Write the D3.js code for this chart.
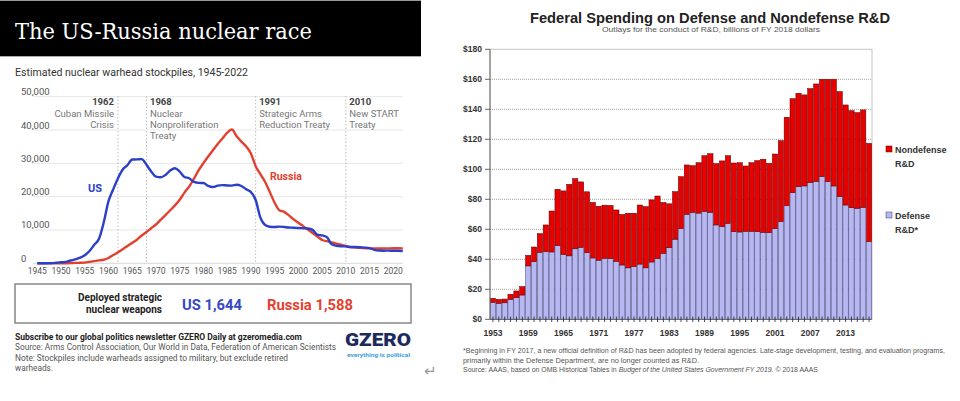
<!DOCTYPE html>
<html><head><meta charset="utf-8">
<script src="https://cdn.jsdelivr.net/npm/d3@7"></script>
<style>body{margin:0;background:#fff}svg{display:block}</style>
</head><body><svg id="c" width="960" height="401"></svg>
<script>
// ---------- Left chart data ----------
const years = d3.range(1945, 2023);
const usStockpile = [2,9,13,50,170,299,438,841,1169,1703,2422,3692,5543,7345,12298,18638,22229,25540,28133,29463,31139,31175,31255,29561,27552,26008,25830,26516,27835,28537,27519,25914,25542,24418,24138,24104,23208,22886,23305,23459,23368,23317,23575,23205,22217,21392,19008,13708,11511,10979,10904,11011,10903,10732,10685,10577,10526,10457,10027,8570,8360,7853,5709,5273,5113,5066,4897,4881,4804,4717,4571,4018,3822,3785,3805,3750,3750,3708];
const russiaStockpile = [0,0,0,0,1,5,25,50,120,150,200,426,660,869,1060,1605,2471,3322,4238,5221,6129,7089,8339,9399,10538,11643,13092,14478,15915,17385,19055,21205,23044,25393,27935,30062,32049,33952,35804,37431,39197,40159,38107,36538,35078,32980,29154,26734,24403,21339,18179,15942,15442,14368,13188,12188,11152,10114,9076,8038,7000,6643,6286,5929,5572,5215,4858,4750,4650,4550,4475,4460,4458,4460,4480,4495,4495,4477];
const xTicksLeft = d3.range(1945, 2021, 5);
const yTicksLeft = [0,10000,20000,30000,40000,50000];
const treatyYears = [1962, 1968, 1991, 2010];
const treatyLines = [["Cuban Missile","Crisis"],["Nuclear","Nonproliferation","Treaty"],["Strategic Arms","Reduction Treaty"],["New START","Treaty"]];
const deployed = {us: "US 1,644", russia: "Russia 1,588"};

// ---------- Right chart data ----------
const fiscalYears = d3.range(1953, 2018);
const defenseRD = [11.3,10.7,11,13.3,14.4,16.2,35.6,38.4,44.7,45.1,44.9,49.1,43.2,42.3,47,48,44.4,40.9,39.4,40.7,40.5,38.7,36.2,34.3,35.1,36.8,34.3,38.2,40.5,44,47.7,53.4,60.5,70,71.3,70.8,72,71.3,62.9,61.8,64,58.4,58.2,58.7,58.7,58.4,58,57.8,60.4,65.1,75.8,84.4,88.4,88.9,91.1,92,95.1,91.8,88.9,81.8,76.2,74.4,74,74.7,51.8];
const nondefenseRD = [2.7,2.6,2.5,3.4,4.5,5.6,7.0,9.8,12.4,17.8,27.3,37.6,42.4,47.7,46.8,43.6,40.6,37.0,36.0,35.4,35.4,34.2,33.7,36.4,35.6,39.4,40.8,41.4,41.7,33.9,29.3,31.7,34.6,32.9,31.1,33.6,37.1,39.1,40.9,43.8,45.1,45.8,46.2,43.5,45.7,47.4,48.7,46.2,49.8,54.0,58.9,62.7,62.3,60.7,62.7,64.9,64.9,68.2,71.1,70.0,66.7,64.7,63.8,64.9,65.5];
const yTicksRight = [0,20,40,60,80,100,120,140,160,180];
const xTickYearsRight = d3.range(1953, 2014, 6);

const svg = d3.select("#c");
svg.append("rect").attr("width",960).attr("height",401).attr("fill","#fff");

// ================= LEFT PANEL =================
const L = svg.append("g").style("font-family","Roboto, 'Noto Sans', sans-serif");
L.append("line").attr("x1",0).attr("x2",421).attr("y1",0.5).attr("y2",0.5).attr("stroke","#999");
L.append("rect").attr("x",0).attr("y",1).attr("width",421).attr("height",55).attr("fill","#000");
L.append("line").attr("x1",0).attr("x2",421).attr("y1",56.5).attr("y2",56.5).attr("stroke","#aaa");
L.append("text").attr("x",15).attr("y",38.5).attr("fill","#fff")
  .style("font-family","'DejaVu Serif', serif").style("font-size","22.5px")
  .attr("textLength",297).attr("lengthAdjust","spacingAndGlyphs")
  .text("The US-Russia nuclear race");
L.append("text").attr("x",15).attr("y",76).attr("fill","#333").style("font-size","10px")
  .attr("textLength",233).attr("lengthAdjust","spacingAndGlyphs")
  .text("Estimated nuclear warhead stockpiles, 1945-2022");

const xL = d3.scaleLinear().domain([1945, 2022]).range([37.3, 402.8]);
const yL = d3.scaleLinear().domain([0, 50000]).range([263.3, 96.7]);

L.append("g").selectAll("line").data(yTicksLeft).join("line")
  .attr("x1",33).attr("x2",403).attr("y1",d=>yL(d)).attr("y2",d=>yL(d))
  .attr("stroke",d=>d===0?"#d8d8d8":"#e6e6e6").attr("stroke-width",1);
L.append("g").selectAll("text").data(yTicksLeft).join("text")
  .attr("x",21).attr("y",d=>yL(d)-1.5).attr("fill","#555").style("font-size","9.5px")
  .text(d=>d3.format(",")(d));
L.append("g").selectAll("text").data(xTicksLeft).join("text")
  .attr("x",d=>xL(d)).attr("y",274).attr("text-anchor","middle").attr("fill","#555")
  .style("font-size","8.5px").text(d=>d);

// treaty annotations
treatyYears.forEach((yr,i)=>{
  const x = xL(yr);
  L.append("line").attr("x1",x).attr("x2",x).attr("y1",96).attr("y2",263)
    .attr("stroke","#bdbdbd").attr("stroke-dasharray","1.5,2");
  const end = i===0;
  const tx = end ? x-4 : x+3.5;
  const anchor = end ? "end" : "start";
  L.append("text").attr("x",tx).attr("y",105).attr("text-anchor",anchor)
    .attr("fill","#444").style("font-size","9.5px").style("font-weight","bold").text(yr);
  treatyLines[i].forEach((t,j)=>{
    L.append("text").attr("x",tx).attr("y",116.5+j*11.3).attr("text-anchor",anchor)
      .attr("fill","#777").style("font-size","9.5px").text(t);
  });
});

const lineGen = (vals)=> d3.line().x((d,i)=>xL(years[i])).y(d=>yL(d)).curve(d3.curveMonotoneX)(vals);
L.append("path").attr("d",lineGen(russiaStockpile)).attr("fill","none").attr("stroke","#e4402f").attr("stroke-width",2.4);
L.append("path").attr("d",lineGen(usStockpile)).attr("fill","none").attr("stroke","#2b40c8").attr("stroke-width",2.4);
L.append("text").attr("x",88).attr("y",192).attr("fill","#2b40c8").style("font-size","11px").style("font-weight","bold").text("US");
L.append("text").attr("x",270).attr("y",180).attr("fill","#e4402f").style("font-size","10.5px").style("font-weight","bold").text("Russia");

// deployed box
L.append("rect").attr("x",15).attr("y",284).attr("width",396).attr("height",39)
  .attr("fill","none").attr("stroke","#888").attr("stroke-width",1.5);
L.append("text").attr("x",162).attr("y",300.5).attr("text-anchor","end").attr("fill","#222")
  .style("font-size","10px").style("font-weight","bold").text("Deployed strategic");
L.append("text").attr("x",162).attr("y",313).attr("text-anchor","end").attr("fill","#222")
  .style("font-size","10px").style("font-weight","bold").text("nuclear weapons");
L.append("text").attr("x",182).attr("y",309.5).attr("fill","#3549c4")
  .style("font-size","15.5px").style("font-weight","bold")
  .attr("textLength",60).attr("lengthAdjust","spacingAndGlyphs").text(deployed.us);
L.append("text").attr("x",267).attr("y",309.5).attr("fill","#e4402f")
  .style("font-size","15.5px").style("font-weight","bold")
  .attr("textLength",86).attr("lengthAdjust","spacingAndGlyphs").text(deployed.russia);

// footer
const foot = [
  {t:"Subscribe to our global politics newsletter GZERO Daily at gzeromedia.com", y:339.5, w:287, b:true, c:"#222"},
  {t:"Source: Arms Control Association, Our World in Data, Federation of American Scientists", y:350, w:321, b:false, c:"#555"},
  {t:"Note: Stockpiles include warheads assigned to military, but exclude retired", y:360.5, w:273, b:false, c:"#555"},
  {t:"warheads.", y:371, w:38, b:false, c:"#555"}
];
foot.forEach(f=>{
  L.append("text").attr("x",15).attr("y",f.y).attr("fill",f.c)
    .style("font-size","8.3px").style("font-weight",f.b?"bold":"normal")
    .attr("textLength",f.w).attr("lengthAdjust","spacingAndGlyphs").text(f.t);
});
L.append("text").attr("x",345).attr("y",346).attr("fill","#1c2b5e")
  .style("font-size","18.5px").style("font-weight","900")
  .attr("textLength",66).attr("lengthAdjust","spacingAndGlyphs").text("GZERO");
L.append("text").attr("x",347).attr("y",356.5).attr("fill","#37a2e0")
  .style("font-size","6px").style("font-weight","bold")
  .attr("textLength",63).attr("lengthAdjust","spacingAndGlyphs").text("everything is political");

svg.append("text").attr("x",424).attr("y",376).attr("fill","#999").style("font-size","15px")
  .style("font-family","'DejaVu Sans', sans-serif").text("↵");

// ================= RIGHT PANEL =================
const R = svg.append("g").style("font-family","'Liberation Sans', Arial, sans-serif");
R.append("text").attr("x",710).attr("y",23).attr("text-anchor","middle").attr("fill","#222")
  .style("font-size","14.5px").style("font-weight","bold")
  .attr("textLength",360).attr("lengthAdjust","spacingAndGlyphs")
  .text("Federal Spending on Defense and Nondefense R&D");
R.append("text").attr("x",711).attr("y",32).attr("text-anchor","middle").attr("fill","#555")
  .style("font-size","8px").attr("textLength",218).attr("lengthAdjust","spacingAndGlyphs")
  .text("Outlays for the conduct of R&D, billions of FY 2018 dollars");

const xR = d3.scaleBand().domain(fiscalYears).range([490, 872]).paddingInner(0.1).paddingOuter(0.05);
const yR = d3.scaleLinear().domain([0, 180]).range([319.3, 49.3]);

R.append("rect").attr("x",490).attr("y",49.3).attr("width",382).attr("height",270).attr("fill","none").attr("stroke","#c4c4c4");
R.append("g").selectAll("line").data(yTicksRight.filter(d=>d>0 && d<180)).join("line")
  .attr("x1",490).attr("x2",872).attr("y1",d=>yR(d)).attr("y2",d=>yR(d))
  .attr("stroke","#888").attr("stroke-dasharray","1,1").attr("stroke-width",0.8);

// bars
const bars = R.append("g");
bars.selectAll("rect.def").data(fiscalYears).join("rect").attr("class","def")
  .attr("x",d=>xR(d)).attr("width",xR.bandwidth())
  .attr("y",(d,i)=>yR(defenseRD[i])).attr("height",(d,i)=>yR(0)-yR(defenseRD[i]))
  .attr("fill","#b7b7f2").attr("stroke","#3a3a6a").attr("stroke-width",0.5);
bars.selectAll("rect.non").data(fiscalYears).join("rect").attr("class","non")
  .attr("x",d=>xR(d)).attr("width",xR.bandwidth())
  .attr("y",(d,i)=>yR(defenseRD[i]+nondefenseRD[i])).attr("height",(d,i)=>yR(defenseRD[i])-yR(defenseRD[i]+nondefenseRD[i]))
  .attr("fill","#e60000").attr("stroke","#5a0000").attr("stroke-width",0.5);

// axes
R.append("line").attr("x1",490).attr("x2",490).attr("y1",49.3).attr("y2",319.3).attr("stroke","#666");
R.append("line").attr("x1",490).attr("x2",872).attr("y1",319.3).attr("y2",319.3).attr("stroke","#666");
R.append("g").selectAll("line").data(yTicksRight).join("line")
  .attr("x1",485).attr("x2",490).attr("y1",d=>yR(d)).attr("y2",d=>yR(d)).attr("stroke","#666");
R.append("g").selectAll("text").data(yTicksRight).join("text")
  .attr("x",482).attr("y",d=>yR(d)+3).attr("text-anchor","end").attr("fill","#333")
  .style("font-size","8.5px").style("font-weight","bold").text(d=>"$"+d);
R.append("g").selectAll("line").data(fiscalYears).join("line")
  .attr("x1",d=>xR(d)+xR.bandwidth()/2).attr("x2",d=>xR(d)+xR.bandwidth()/2)
  .attr("y1",316.5).attr("y2",322).attr("stroke","#223").attr("stroke-width",0.8);
R.append("g").selectAll("text").data(xTickYearsRight).join("text")
  .attr("x",d=>xR(d)+xR.bandwidth()/2).attr("y",336).attr("text-anchor","middle").attr("fill","#333")
  .style("font-size","8.5px").style("font-weight","bold").text(d=>d);

// legend
const legend = [
  {c:"#e60000", s:"#5a0000", l:["Nondefense","R&D"], y:146},
  {c:"#b7b7f2", s:"#3a3a6a", l:["Defense","R&D*"], y:212}
];
legend.forEach(g=>{
  R.append("rect").attr("x",886).attr("y",g.y).attr("width",6).attr("height",6).attr("fill",g.c).attr("stroke",g.s).attr("stroke-width",0.5);
  g.l.forEach((t,j)=>{
    R.append("text").attr("x",895).attr("y",g.y+6.5+j*14).attr("fill","#333")
      .style("font-size","9px").style("font-weight","bold").text(t);
  });
});

// footnote
R.append("text").attr("x",463).attr("y",352.5).attr("fill","#555").style("font-size","6.5px")
  .attr("textLength",482).attr("lengthAdjust","spacingAndGlyphs")
  .text("*Beginning in FY 2017,  a new official definition of R&D has been adopted by federal agencies. Late-stage development, testing, and evaluation programs,");
R.append("text").attr("x",463).attr("y",362.5).attr("fill","#555").style("font-size","6.5px")
  .attr("textLength",236).attr("lengthAdjust","spacingAndGlyphs")
  .text("primarily within the Defense Department, are no longer counted as R&D.");
const src = R.append("text").attr("x",463).attr("y",372).attr("fill","#555").style("font-size","6.5px")
  .attr("textLength",355).attr("lengthAdjust","spacingAndGlyphs");
src.append("tspan").text("Source: AAAS, based on OMB Historical Tables in ");
src.append("tspan").style("font-style","italic").text("Budget of the United States Government FY 2019.");
src.append("tspan").text("  © 2018 AAAS");
</script></body></html>
